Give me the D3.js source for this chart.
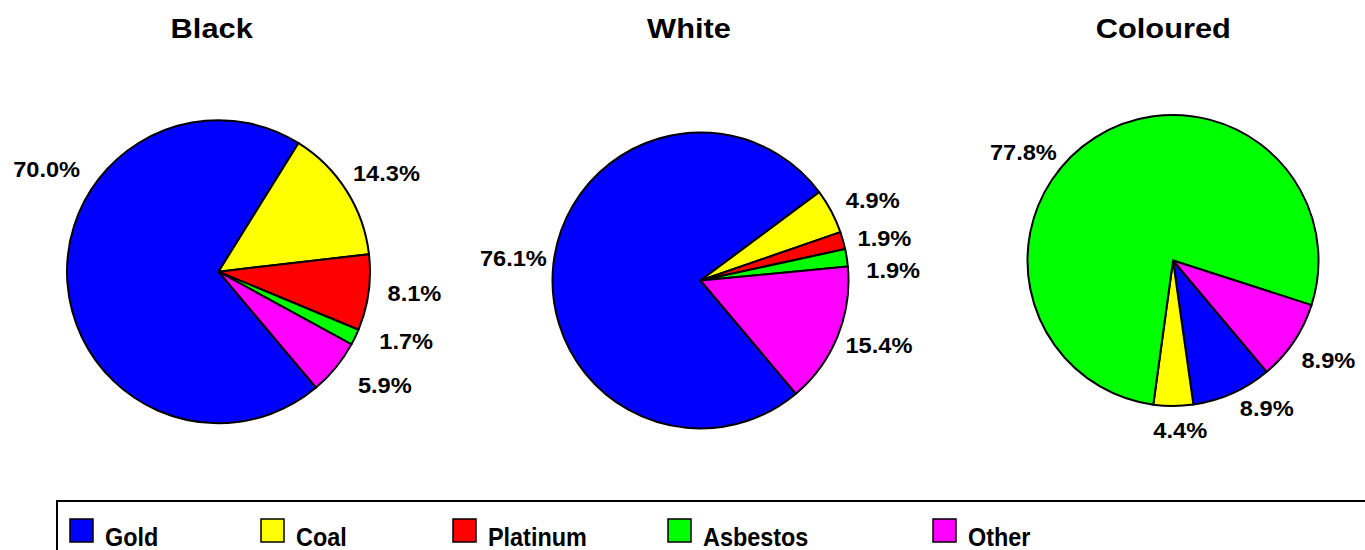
<!DOCTYPE html>
<html>
<head>
<meta charset="utf-8">
<script src="https://cdn.jsdelivr.net/npm/d3@7"></script>
<style>
  html, body { margin: 0; padding: 0; background: #fff; overflow: hidden; }
  svg { display: block; font-family: "Liberation Sans", Arial, sans-serif; }
</style>
</head>
<body>
<svg id="chart" width="1365" height="550"></svg>
<script>
// ---------- DATA ----------
const categories = ["Gold", "Coal", "Platinum", "Asbestos", "Other"];
const groups = ["Black", "White", "Coloured"];
const blackValues = [70.0, 14.3, 8.1, 1.7, 5.9];
const whiteValues = [76.1, 4.9, 1.9, 1.9, 15.4];
const colouredValues = [8.9, 4.4, 0, 77.8, 8.9];
const seriesValues = [blackValues, whiteValues, colouredValues];
const colors = ["#0000FF", "#FFFF00", "#FF0000", "#00FF00", "#FF00FF"];

// ---------- LAYOUT ----------
const W = 1365, H = 550;
const deg = Math.PI / 180;
const startDeg = 139.9;
const pieLayout = [
  { cx: 218.5, cy: 271.7, r: 151.5, titleX: 211.7 },
  { cx: 700.5, cy: 280.5, r: 148.0, titleX: 689.0 },
  { cx: 1173.0, cy: 260.5, r: 145.5, titleX: 1163.3 }
];
// label placement tweaks (angle nudge in degrees, extra radius in px) per pie, per category
const labelAngleNudge = [
  [35.1, 1.95, -1.9, -5.4, -5.1],
  [0.3, 2.9, 2.6, 5.6, -2.3],
  [-8.3, -2.3, 0, -21.8, -1.3]
];
const labelRadiusExtra = [
  [49, 43.2, 45.5, 48.5, 49.5],
  [40.5, 42, 40.8, 45, 41.8],
  [29.5, 24.1, 0, 39.5, 38.9]
];
const legendX = [70, 261, 453, 668, 933];

const svg = d3.select("#chart");
const color = d3.scaleOrdinal().domain(categories).range(colors);
const fmt = d3.format(".1f");

const pie = d3.pie()
  .sort(null)
  .value(d => d.value)
  .startAngle(startDeg * deg)
  .endAngle((startDeg + 360) * deg);

groups.forEach((g, gi) => {
  const L = pieLayout[gi];
  const data = categories.map((c, i) => ({ cat: c, value: seriesValues[gi][i], i }));
  const arcs = pie(data);
  const arc = d3.arc().innerRadius(0).outerRadius(L.r);

  // title
  svg.append("text")
    .attr("transform", `translate(${L.titleX},37.8) scale(1.12,1)`)
    .attr("text-anchor", "middle")
    .attr("font-size", 27.5)
    .attr("font-weight", "bold")
    .attr("fill", "#000")
    .text(g);

  const gp = svg.append("g").attr("transform", `translate(${L.cx},${L.cy})`);
  gp.selectAll("path")
    .data(arcs.filter(a => a.data.value > 0))
    .join("path")
    .attr("d", arc)
    .attr("fill", d => color(d.data.cat))
    .attr("stroke", "#000")
    .attr("stroke-width", 2)
    .attr("stroke-linejoin", "round");

  gp.selectAll("text.lbl")
    .data(arcs.filter(a => a.data.value > 0))
    .join("text")
    .attr("class", "lbl")
    .attr("transform", d => {
      const mid = (d.startAngle + d.endAngle) / 2 + labelAngleNudge[gi][d.data.i] * deg;
      const rr = L.r + labelRadiusExtra[gi][d.data.i];
      const x = Math.sin(mid) * rr, y = -Math.cos(mid) * rr;
      return `translate(${x},${y}) scale(1.05,1)`;
    })
    .attr("text-anchor", "middle")
    .attr("dy", "0.36em")
    .attr("font-size", 22.5)
    .attr("font-weight", "bold")
    .attr("fill", "#000")
    .text(d => fmt(d.data.value) + "%");
});

// legend
svg.append("rect")
  .attr("x", 57).attr("y", 501)
  .attr("width", W + 20).attr("height", 100)
  .attr("fill", "none")
  .attr("stroke", "#000")
  .attr("stroke-width", 2);

const lg = svg.selectAll("g.leg")
  .data(categories)
  .join("g")
  .attr("class", "leg")
  .attr("transform", (d, i) => `translate(${legendX[i]},519)`);
lg.append("rect")
  .attr("x", 0).attr("y", 0)
  .attr("width", 23).attr("height", 23)
  .attr("fill", d => color(d))
  .attr("stroke", "#000")
  .attr("stroke-width", 1.5);
lg.append("text")
  .attr("transform", "translate(35,27) scale(0.9,1)")
  .attr("font-size", 26)
  .attr("font-weight", "bold")
  .attr("fill", "#000")
  .text(d => d);
</script>
</body>
</html>
